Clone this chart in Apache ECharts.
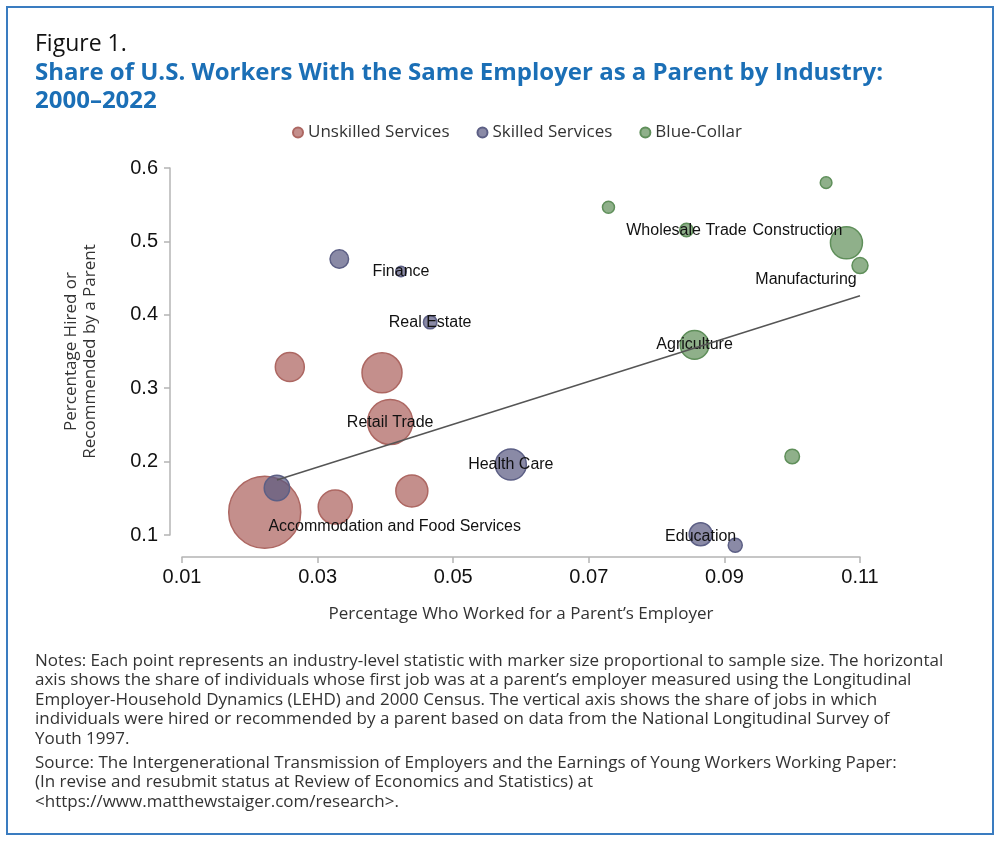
<!DOCTYPE html>
<html>
<head>
<meta charset="utf-8">
<script src="https://cdn.jsdelivr.net/npm/echarts@6/dist/echarts.min.js"></script>
<style>
  html, body { margin: 0; padding: 0; background: #fff; }
  #main { width: 1000px; height: 843px; }
</style>
</head>
<body>
<div id="main"></div>
<script>
// x = share who worked for a parent's employer, y = share hired/recommended by a parent,
// w = relative sample size (marker area)
const unskilledX = [0.0222, 0.0259, 0.0395, 0.0407, 0.0326, 0.0439];
const unskilledY = [0.131, 0.329, 0.321, 0.254, 0.138, 0.160];
const unskilledW = [1296, 210, 400, 506, 289, 256];
const unskilledNames = ['Accommodation and Food Services', '', '', 'Retail Trade', '', ''];

const skilledX = [0.0332, 0.0423, 0.0466, 0.0240, 0.0585, 0.0865, 0.0916];
const skilledY = [0.476, 0.459, 0.390, 0.164, 0.196, 0.101, 0.086];
const skilledW = [86, 28, 45, 161, 240, 132, 49];
const skilledNames = ['', 'Finance', 'Real Estate', '', 'Health Care', 'Education', ''];

const blueX = [0.0729, 0.0844, 0.1050, 0.1080, 0.1100, 0.0856, 0.1000];
const blueY = [0.5465, 0.5155, 0.580, 0.498, 0.467, 0.359, 0.207];
const blueW = [36, 45, 34, 256, 64, 204, 53];
const blueNames = ['', 'Wholesale Trade', '', 'Construction', 'Manufacturing', 'Agriculture', ''];

// fitted line end points
const fitX = [0.024, 0.110];
const fitY = [0.175, 0.426];

const xTicks = [0.01, 0.03, 0.05, 0.07, 0.09, 0.11];
const yTicks = [0.1, 0.2, 0.3, 0.4, 0.5, 0.6];

const notesText = [
  'Notes: Each point represents an industry-level statistic with marker size proportional to sample size. The horizontal',
  'axis shows the share of individuals whose first job was at a parent\u2019s employer measured using the Longitudinal',
  'Employer-Household Dynamics (LEHD) and 2000 Census. The vertical axis shows the share of jobs in which',
  'individuals were hired or recommended by a parent based on data from the National Longitudinal Survey of',
  'Youth 1997.'
];
const sourceText = [
  'Source: The Intergenerational Transmission of Employers and the Earnings of Young Workers Working Paper:',
  '(In revise and resubmit status at Review of Economics and Statistics) at',
  '<https://www.matthewstaiger.com/research>.'
];

// label nudges (pixels) for labels that don't sit on their marker
const labelOffset = {
  'Accommodation and Food Services': [130, 14],
  'Retail Trade': [0, 1],
  'Wholesale Trade': [0, 1],
  'Construction': [-49, -12],
  'Manufacturing': [-54, 14],
  'Education': [0, 2]
};

const SANS = '"Open Sans", sans-serif';
const ARIAL = '"Liberation Sans", Arial, sans-serif';

function buildData(xs, ys, ws, names) {
  return xs.map(function (x, i) {
    const item = { value: [x, ys[i], ws[i]], name: names[i] };
    if (names[i]) {
      item.label = {
        show: true,
        position: 'inside',
        offset: labelOffset[names[i]] || [0, 0],
        formatter: names[i],
        color: '#111',
        fontSize: 16,
        fontFamily: ARIAL
      };
    }
    return item;
  });
}

function bubble(name, xs, ys, ws, names, fill, border) {
  return {
    name: name,
    type: 'scatter',
    clip: false,
    data: buildData(xs, ys, ws, names),
    symbolSize: function (val) { return 2 * Math.sqrt(val[2]); },
    itemStyle: { color: fill, borderColor: border, borderWidth: 1.5, opacity: 1 },
    label: { show: false },
    emphasis: { disabled: true }
  };
}

const myChart = echarts.init(document.getElementById('main'));

const option = {
  backgroundColor: '#fff',
  animation: false,
  title: [
    {
      text: 'Figure 1.',
      left: 30, top: 28,
      textStyle: { fontFamily: SANS, fontWeight: 'normal', fontSize: 23, color: '#111' }
    },
    {
      text: 'Share of U.S. Workers With the Same Employer as a Parent by Industry:\n2000\u20132022',
      left: 30, top: 54,
      textStyle: { fontFamily: SANS, fontWeight: 'bold', fontSize: 24, lineHeight: 28, color: '#1b6fb6' }
    }
  ],
  legend: {
    data: ['Unskilled Services', 'Skilled Services', 'Blue-Collar'],
    left: 287, top: 119,
    icon: 'circle',
    itemWidth: 10, itemHeight: 10,
    itemGap: 27,
    textStyle: { fontFamily: SANS, fontSize: 17, color: '#333' }
  },
  grid: { left: 182, right: 140, top: 168, bottom: 308 },
  xAxis: {
    type: 'value',
    min: 0.01, max: 0.11, interval: 0.02,
    offset: 22,
    name: 'Percentage Who Worked for a Parent\u2019s Employer',
    nameLocation: 'middle',
    nameGap: 49,
    nameTextStyle: { fontFamily: SANS, fontSize: 17, color: '#333' },
    axisLine: { lineStyle: { color: '#b4b4b4', width: 1.5 } },
    axisTick: { length: 6, lineStyle: { color: '#b4b4b4', width: 1.5 } },
    axisLabel: {
      fontFamily: ARIAL, fontSize: 20, color: '#111', margin: 10,
      formatter: function (v) { return xTicks.find(t => Math.abs(t - v) < 1e-6).toFixed(2); }
    },
    splitLine: { show: false }
  },
  yAxis: {
    type: 'value',
    min: 0.1, max: 0.6, interval: 0.1,
    offset: 12,
    name: 'Percentage Hired or\nRecommended by a Parent',
    nameLocation: 'middle',
    nameGap: 70,
    nameTextStyle: { fontFamily: SANS, fontSize: 17, color: '#333', lineHeight: 19 },
    axisLine: { show: true, lineStyle: { color: '#b4b4b4', width: 1.5 } },
    axisTick: { show: true, length: 6, lineStyle: { color: '#b4b4b4', width: 1.5 } },
    axisLabel: {
      fontFamily: ARIAL, fontSize: 20, color: '#111', margin: 12,
      formatter: function (v) { return yTicks.find(t => Math.abs(t - v) < 1e-6).toFixed(1); }
    },
    splitLine: { show: false }
  },
  series: [
    bubble('Unskilled Services', unskilledX, unskilledY, unskilledW, unskilledNames,
      'rgba(171,96,91,0.7)', '#ad6762'),
    bubble('Skilled Services', skilledX, skilledY, skilledW, skilledNames,
      'rgba(88,88,128,0.7)', '#5c5f85'),
    bubble('Blue-Collar', blueX, blueY, blueW, blueNames,
      'rgba(95,142,88,0.7)', '#5f8f5a'),
    {
      name: 'fit',
      type: 'line',
      data: fitX.map((x, i) => [x, fitY[i]]),
      symbol: 'none',
      silent: true,
      z: 5,
      lineStyle: { color: '#555', width: 1.5 }
    }
  ],
  graphic: [
    {
      type: 'rect',
      shape: { x: 7, y: 7, width: 986, height: 827 },
      style: { fill: 'none', stroke: '#3a7cc0', lineWidth: 2 },
      silent: true
    },
    {
      type: 'text',
      left: 35, top: 651,
      style: {
        text: notesText.join('\n'),
        font: '17px "Open Sans", sans-serif',
        fill: '#333',
        lineHeight: 19.5
      }
    },
    {
      type: 'text',
      left: 35, top: 753,
      style: {
        text: sourceText.join('\n'),
        font: '17px "Open Sans", sans-serif',
        fill: '#333',
        lineHeight: 19.5
      }
    }
  ]
};

myChart.setOption(option);
window.addEventListener('resize', myChart.resize);
</script>
</body>
</html>
